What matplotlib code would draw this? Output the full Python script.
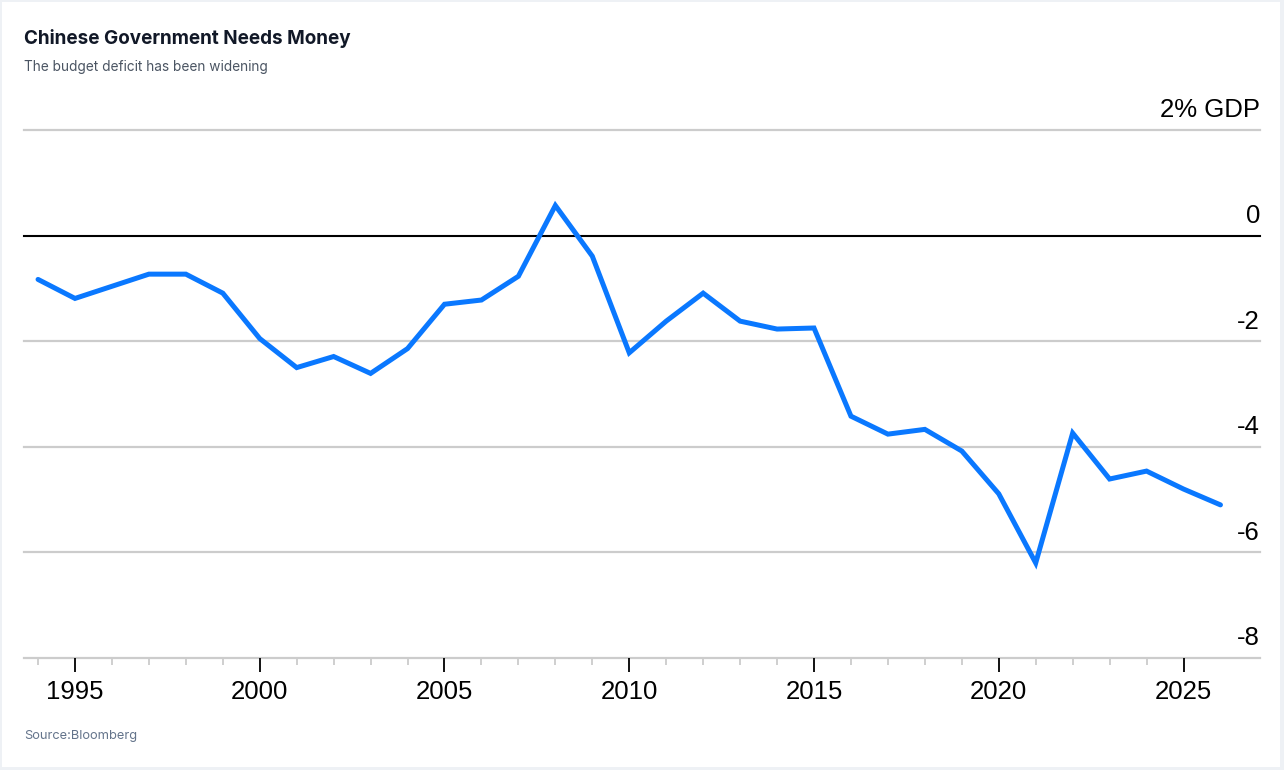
import matplotlib
matplotlib.use('Agg')
from matplotlib import pyplot as plt
from matplotlib.patches import Rectangle
from matplotlib.ticker import FixedLocator

years = list(range(1994, 2027))
deficit = [-0.83, -1.19, -0.96, -0.73, -0.73, -1.09, -1.95, -2.50, -2.29, -2.61,
           -2.14, -1.30, -1.22, -0.77, 0.57, -0.39, -2.22, -1.62, -1.09, -1.62,
           -1.77, -1.75, -3.42, -3.76, -3.67, -4.08, -4.89, -6.20, -3.74, -4.61,
           -4.46, -4.80, -5.10]
yTicks = [2, 0, -2, -4, -6, -8]
yLabels = ['2% GDP', '0', '-2', '-4', '-6', '-8']
xMajor = [1995, 2000, 2005, 2010, 2015, 2020, 2025]
xMinor = list(range(1994, 2026))

W, H = 1284, 770
fig = plt.figure(figsize=(W / 100, H / 100), dpi=100, facecolor='#eef1f5')
fig.patches.append(Rectangle((2 / W, 3 / H), 1278 / W, 765 / H, transform=fig.transFigure,
                             facecolor='white', edgecolor='none', zorder=-5))

ax = fig.add_axes([24 / W, 1 - 658 / H, 1236 / W, 528 / H])
ax.set_facecolor('none')
ax.set_xlim(1993.62, 2027.07)
ax.set_ylim(-8, 2)
for s in ax.spines.values():
    s.set_visible(False)

# horizontal guides
for t in yTicks:
    if t == 0:
        ax.axhline(t, color='black', lw=1.5, zorder=2, clip_on=False)
    else:
        ax.axhline(t, color='#cccccc', lw=1.6, zorder=1, clip_on=False)

# y labels sit right-aligned above each guide
for t, lab in zip(yTicks, yLabels):
    ax.annotate(lab, xy=(1.0, t), xycoords=ax.get_yaxis_transform(),
                xytext=(0, 5.5), textcoords='offset points', ha='right', va='bottom',
                fontsize=18.5, family='Liberation Sans', color='black')

ax.plot(years, deficit, color='#0a78ff', lw=3.6, solid_joinstyle='miter',
        solid_capstyle='round', zorder=3)

ax.set_yticks([])
ax.set_xticks(xMajor)
ax.set_xticklabels([str(x) for x in xMajor], fontsize=18.5, family='Liberation Sans')
ax.xaxis.set_minor_locator(FixedLocator(xMinor))
ax.tick_params(axis='x', which='major', length=10, width=1.3, color='black', pad=5.5)
ax.tick_params(axis='x', which='minor', length=5, width=1.3, color='#cccccc')

fig.text(24 / W, 1 - 44 / H, 'Chinese Government Needs Money', fontsize=13.6,
         family='Inter', weight='bold', color='#111827')
fig.text(24 / W, 1 - 71 / H, 'The budget deficit has been widening', fontsize=9.85,
         family='Inter', color='#4b5563')
fig.text(24 / W, 1 - 739 / H, 'Source:Bloomberg', fontsize=9.25, family='Inter',
         color='#64748b')

fig.savefig('out.png', dpi=100, facecolor=fig.get_facecolor())
